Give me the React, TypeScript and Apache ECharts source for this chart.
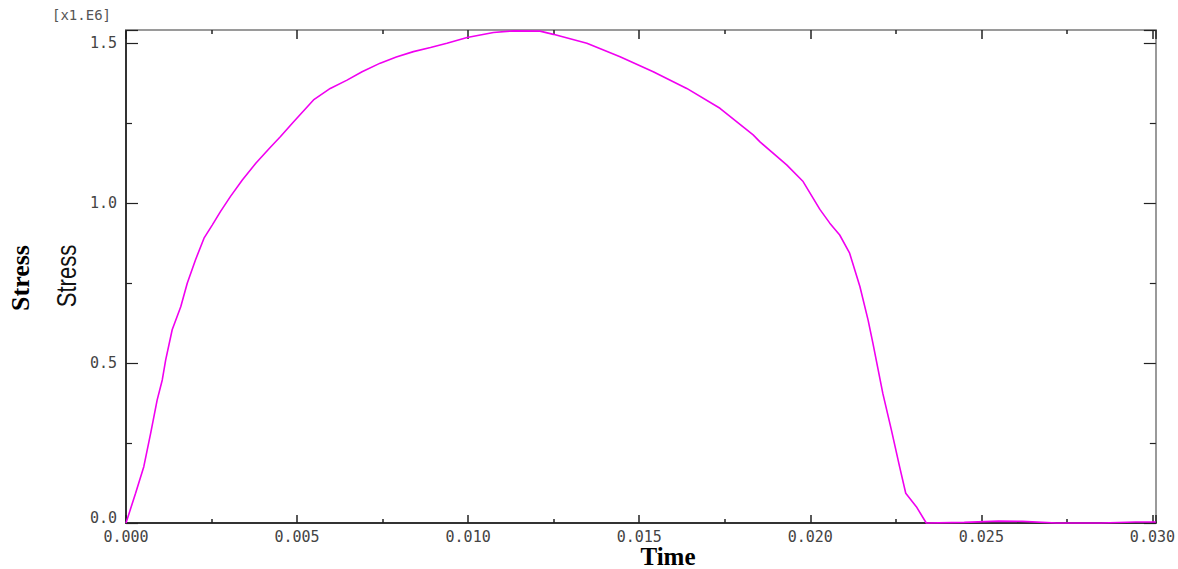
import React, { useEffect, useRef } from "react";
import * as echarts from "echarts";

// Time history of stress (time in s, stress in units of 1e6)
const time: number[] = [
  0, 0.00028, 0.00052, 0.00072, 0.00091, 0.00106, 0.00116, 0.00135, 0.0016, 0.00179,
  0.00203, 0.00228, 0.00252, 0.00276, 0.00305, 0.0034, 0.0038, 0.0042, 0.00451, 0.0049,
  0.00548, 0.00597, 0.00646, 0.0069, 0.00743, 0.0079, 0.0084, 0.0089, 0.00938, 0.00997,
  0.01074, 0.01133, 0.0121, 0.01249, 0.01347, 0.01444, 0.01541, 0.01639, 0.01736, 0.01833,
  0.01853, 0.01931, 0.01979, 0.02028, 0.02057, 0.02086, 0.02115, 0.02145, 0.02169, 0.02183,
  0.02212, 0.02237, 0.02261, 0.02279, 0.0231, 0.02339, 0.0245, 0.0255, 0.0262, 0.0272,
  0.0285, 0.0295, 0.0301,
];
const stress: number[] = [
  0, 0.093, 0.176, 0.28, 0.384, 0.447, 0.51, 0.604, 0.676, 0.749,
  0.822, 0.89, 0.931, 0.973, 1.02, 1.072, 1.125, 1.172, 1.207, 1.254,
  1.322, 1.358, 1.384, 1.41, 1.437, 1.456, 1.473, 1.486, 1.499, 1.517,
  1.533, 1.538, 1.537, 1.527, 1.499, 1.457, 1.41, 1.358, 1.296, 1.213,
  1.191, 1.119, 1.067, 0.98, 0.937, 0.9, 0.843, 0.739, 0.634, 0.562,
  0.405, 0.291, 0.176, 0.093, 0.051, 0, 0.002, 0.006, 0.005, 0,
  0, 0.003, 0.003,
];

const xTickStep = 0.005;
const yTickStep = 0.5;
const xMax = 0.0301;
const yMax = 1.5406;
const yScaleNote = "[x1.E6]";
const yTitle = "Stress";
const xTitle = "Time";

const monoFont = "'DejaVu Sans Mono', 'Liberation Mono', monospace";
const serifFont = "'Liberation Serif', 'Times New Roman', serif";

export default function App() {
  const ref = useRef<HTMLDivElement>(null);

  useEffect(() => {
    document.body.style.margin = "0";
    const chart = echarts.init(ref.current!, null, { renderer: "svg" });
    const points = time.map((t, i) => [t, stress[i]]);

    const dark = "#333";
    const light = "#9a9a9a";

    chart.setOption({
      animation: false,
      backgroundColor: "#fff",
      grid: { left: 126, right: 21, top: 30, bottom: 46 },
      xAxis: [
        {
          type: "value",
          position: "bottom",
          min: 0,
          max: xMax,
          interval: xTickStep,
          axisLine: { show: true, onZero: false, lineStyle: { color: dark, width: 2 } },
          axisTick: { show: true, inside: true, length: 8, lineStyle: { color: "#222", width: 1.5 } },
          minorTick: { show: true, splitNumber: 2, length: 4, lineStyle: { color: "#222", width: 1.5 } },
          splitLine: { show: false },
          axisLabel: {
            showMaxLabel: false,
            margin: 8,
            lineHeight: 12,
            fontFamily: monoFont,
            fontSize: 15,
            color: "#444",
            formatter: (v: number) => v.toFixed(3),
          },
        },
        {
          type: "value",
          position: "top",
          min: 0,
          max: xMax,
          interval: xTickStep,
          axisLine: { show: true, onZero: false, lineStyle: { color: light, width: 2 } },
          axisTick: { show: true, inside: true, length: 9, lineStyle: { color: "#222", width: 1.5 } },
          minorTick: { show: true, splitNumber: 2, length: 4, lineStyle: { color: "#222", width: 1.5 } },
          splitLine: { show: false },
          axisLabel: { show: false },
        },
      ],
      yAxis: [
        {
          type: "value",
          position: "left",
          min: 0,
          max: yMax,
          interval: yTickStep,
          axisLine: { show: true, onZero: false, lineStyle: { color: dark, width: 2 } },
          axisTick: { show: true, inside: true, length: 12, lineStyle: { color: "#222", width: 1.2 } },
          minorTick: { show: true, splitNumber: 2, length: 6, lineStyle: { color: "#222", width: 1.2 } },
          splitLine: { show: false },
          axisLabel: {
            showMaxLabel: false,
            verticalAlignMinLabel: "bottom",
            margin: 9,
            lineHeight: 11,
            fontFamily: monoFont,
            fontSize: 15,
            color: "#444",
            formatter: (v: number) => v.toFixed(1),
          },
        },
        {
          type: "value",
          position: "right",
          min: 0,
          max: yMax,
          interval: yTickStep,
          axisLine: { show: true, onZero: false, lineStyle: { color: light, width: 2 } },
          axisTick: { show: true, inside: true, length: 12, lineStyle: { color: "#222", width: 1.2 } },
          minorTick: { show: true, splitNumber: 2, length: 6, lineStyle: { color: "#222", width: 1.2 } },
          splitLine: { show: false },
          axisLabel: { show: false },
        },
      ],
      series: [
        {
          type: "line",
          xAxisIndex: 0,
          yAxisIndex: 0,
          data: points,
          showSymbol: false,
          smooth: false,
          clip: false,
          lineStyle: { color: "#f000f0", width: 1.6 },
        },
      ],
      graphic: [
        {
          type: "text",
          left: 52,
          top: 8,
          style: { text: yScaleNote, font: `14px ${monoFont}`, fill: "#555" },
        },
        {
          type: "text",
          x: 20,
          y: 278,
          rotation: Math.PI / 2,
          style: {
            text: yTitle,
            font: `bold 26px ${serifFont}`,
            fill: "#000",
            align: "center",
            verticalAlign: "middle",
          },
        },
        {
          type: "text",
          x: 67,
          y: 276,
          rotation: Math.PI / 2,
          scaleX: 0.82,
          style: {
            text: yTitle,
            font: `27px 'Liberation Sans', Arial, sans-serif`,
            fill: "#111",
            align: "center",
            verticalAlign: "middle",
          },
        },
        {
          type: "text",
          x: 668,
          y: 556,
          style: {
            text: xTitle,
            font: `bold 25px ${serifFont}`,
            fill: "#000",
            align: "center",
            verticalAlign: "middle",
          },
        },
      ],
    });

    return () => chart.dispose();
  }, []);

  return (
    <div
      ref={ref}
      style={{ position: "absolute", left: 0, top: 0, width: 1178, height: 569, background: "#fff" }}
    />
  );
}
